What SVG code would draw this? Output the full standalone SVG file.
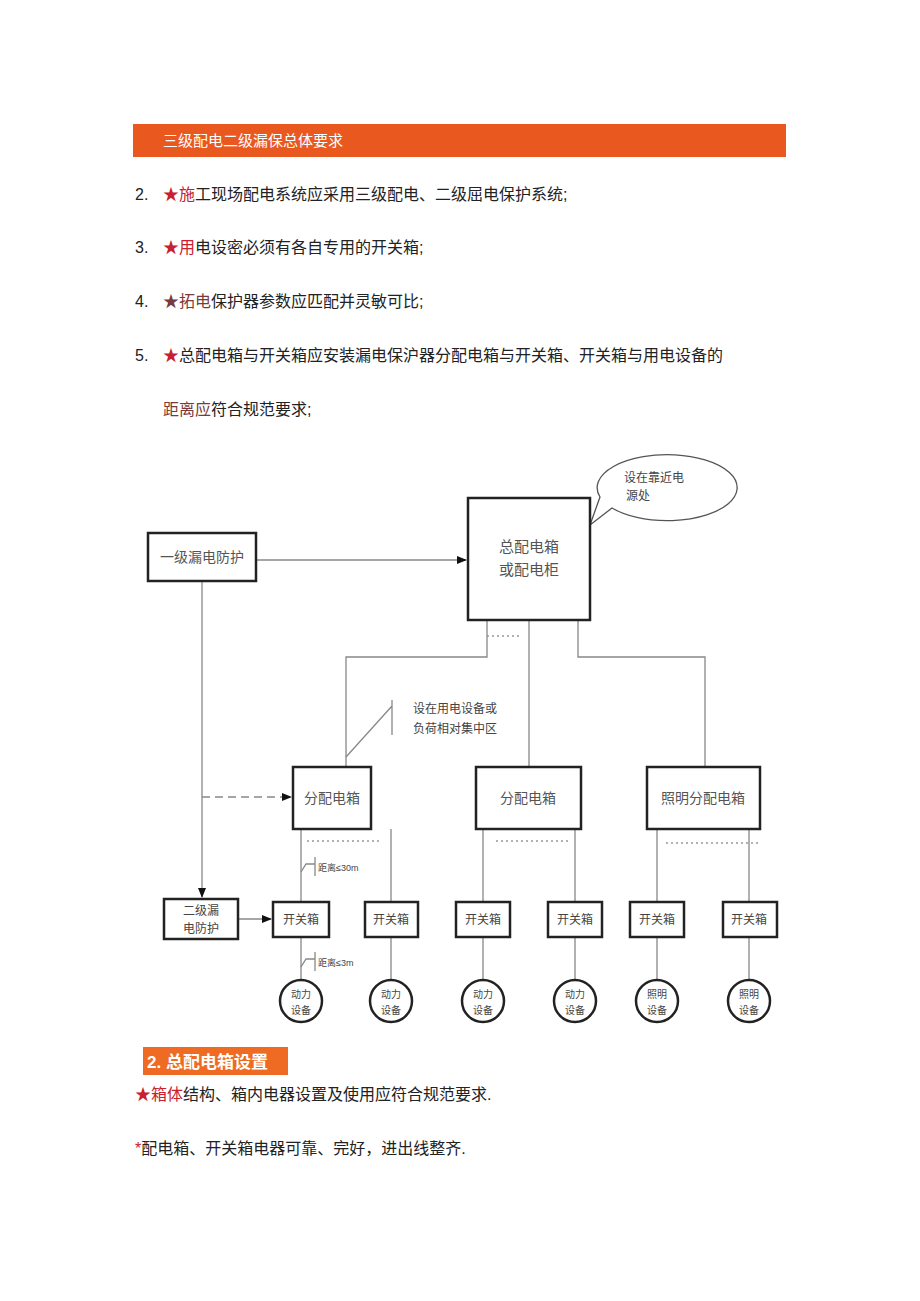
<svg xmlns="http://www.w3.org/2000/svg" width="920" height="1301" viewBox="0 0 920 1301">
<style>
text{font-family:"Liberation Sans","Noto Sans CJK SC",sans-serif;fill:#222}
.t{font-size:16px}
.r{fill:#c8202f}
.b{fill:#7a3a3a}
.d{font-size:14px;fill:#555;text-anchor:middle}
.s{font-size:12px;fill:#444;text-anchor:middle}
.bx{fill:#fff;stroke:#222;stroke-width:2.5}
.ln{stroke:#888;stroke-width:1.3;fill:none}
.dot{stroke:#999;stroke-width:1.3;stroke-dasharray:2 3}
</style>
<defs><marker id="a" markerWidth="10" markerHeight="8" refX="9" refY="4" orient="auto" markerUnits="userSpaceOnUse"><path d="M0,0L10,4L0,8z" fill="#111"/></marker></defs>
<rect width="920" height="1301" fill="#fff"/>
<rect x="133" y="124" width="653" height="33" fill="#e8581f"/>
<text x="163" y="146" style="font-size:15px;fill:#fff">三级配电二级漏保总体要求</text>
<text class="t" x="135" y="200">2.</text><text class="t" x="163" y="200"><tspan class="r">★施</tspan>工现场配电系统应采用三级配电、二级屈电保护系统;</text>
<text class="t" x="135" y="253">3.</text><text class="t" x="163" y="253"><tspan class="r">★用</tspan>电设密必须有各自专用的开关箱;</text>
<text class="t" x="135" y="307">4.</text><text class="t" x="163" y="307"><tspan class="b">★拓电</tspan>保护器参数应匹配并灵敏可比;</text>
<text class="t" x="135" y="361">5.</text><text class="t" x="163" y="361"><tspan class="r">★</tspan>总配电箱与开关箱应安装漏电保沪器分配电箱与开关箱、开关箱与用电设备的</text>
<text class="t" x="163" y="415"><tspan class="b">距离应</tspan>符合规范要求;</text>
<g id="connectors">
<line class="ln" x1="256" y1="560" x2="466" y2="560" stroke="#555" marker-end="url(#a)"/>
<line class="dot" x1="487" y1="636" x2="520" y2="636"/>
<path class="ln" d="M487 620V657H346V767M529 620V767M578 620V657H705V767"/>
<path class="ln" d="M346 757L392 706M392 700V735"/>
<line class="ln" x1="202" y1="581" x2="202" y2="897" marker-end="url(#a)"/>
<line class="ln" x1="202" y1="797" x2="291" y2="797" stroke-dasharray="8 5" marker-end="url(#a)"/>
<line class="ln" x1="238" y1="919" x2="271" y2="919" marker-end="url(#a)"/>
<path class="ln" d="M301 829V902M391 829V902M483 829V902M575 829V902M657 829V902M749 829V902"/>
<path class="dot" d="M307 841H382M496 841H571M666 843H758"/>
<path class="ln" d="M301 937V980M391 937V980M483 937V980M575 937V980M657 937V980M749 937V980"/>
<path class="ln" d="M301 872L306 864H315M315 857V876M301 967L306 959H315M315 952V971"/>
</g>
<g id="bubble"><path d="M590 525L612 508A70 33 0 1 0 600 497Z" fill="#fff" stroke="#555" stroke-width="1.3"/><text class="s" x="654" y="482">设在靠近电</text><text class="s" x="638" y="500">源处</text></g>
<g id="n1"><rect class="bx" x="148" y="533" width="108" height="48"/><text class="d" x="202" y="562">一级漏电防护</text></g>
<g id="main"><rect class="bx" x="468" y="498" width="122" height="122"/><text class="d" x="529" y="552" style="font-size:15px">总配电箱</text><text class="d" x="529" y="575" style="font-size:15px">或配电柜</text></g>
<g id="note"><text class="s" x="455" y="713">设在用电设备或</text><text class="s" x="455" y="733">负荷相对集中区</text></g>
<g id="f1"><rect class="bx" x="293" y="767" width="78" height="62"/><text class="d" x="332" y="803">分配电箱</text></g>
<g id="f2"><rect class="bx" x="476" y="767" width="105" height="62"/><text class="d" x="528" y="803">分配电箱</text></g>
<g id="f3"><rect class="bx" x="647" y="767" width="113" height="62"/><text class="d" x="703" y="803">照明分配电箱</text></g>
<g id="n2"><rect class="bx" x="164" y="899" width="74" height="40"/><text class="s" x="201" y="915">二级漏</text><text class="s" x="201" y="933">电防护</text></g>
<text style="font-size:9px;fill:#444" x="318" y="871">距离≤30m</text>
<text style="font-size:9px;fill:#444" x="318" y="966">距离≤3m</text>
<g id="k1"><rect class="bx" x="273" y="902" width="56" height="35"/><text class="s" x="301" y="924">开关箱</text></g>
<g id="k2"><rect class="bx" x="365" y="902" width="53" height="35"/><text class="s" x="391" y="924">开关箱</text></g>
<g id="k3"><rect class="bx" x="456" y="902" width="54" height="35"/><text class="s" x="483" y="924">开关箱</text></g>
<g id="k4"><rect class="bx" x="548" y="902" width="54" height="35"/><text class="s" x="575" y="924">开关箱</text></g>
<g id="k5"><rect class="bx" x="630" y="902" width="54" height="35"/><text class="s" x="657" y="924">开关箱</text></g>
<g id="k6"><rect class="bx" x="723" y="902" width="54" height="35"/><text class="s" x="749" y="924">开关箱</text></g>
<g id="c1"><circle class="bx" cx="301" cy="1001" r="21"/><text class="s" style="font-size:10px" x="301" y="998">动力</text><text class="s" style="font-size:10px" x="301" y="1014">设备</text></g>
<g id="c2"><circle class="bx" cx="391" cy="1001" r="21"/><text class="s" style="font-size:10px" x="391" y="998">动力</text><text class="s" style="font-size:10px" x="391" y="1014">设备</text></g>
<g id="c3"><circle class="bx" cx="483" cy="1001" r="21"/><text class="s" style="font-size:10px" x="483" y="998">动力</text><text class="s" style="font-size:10px" x="483" y="1014">设备</text></g>
<g id="c4"><circle class="bx" cx="575" cy="1001" r="21"/><text class="s" style="font-size:10px" x="575" y="998">动力</text><text class="s" style="font-size:10px" x="575" y="1014">设备</text></g>
<g id="c5"><circle class="bx" cx="657" cy="1001" r="21"/><text class="s" style="font-size:10px" x="657" y="998">照明</text><text class="s" style="font-size:10px" x="657" y="1014">设备</text></g>
<g id="c6"><circle class="bx" cx="749" cy="1001" r="21"/><text class="s" style="font-size:10px" x="749" y="998">照明</text><text class="s" style="font-size:10px" x="749" y="1014">设备</text></g>
<rect x="143" y="1047" width="145" height="28" fill="#ef6a22"/>
<text x="147" y="1068" style="font-size:17px;font-weight:bold;fill:#fff">2.  总配电箱设置</text>
<text class="t" x="135" y="1100"><tspan class="r">★箱体</tspan>结构、箱内电器设置及使用应符合规范要求.</text>
<text class="t" x="135" y="1154"><tspan class="r">*</tspan>配电箱、开关箱电器可靠、完好，进出线整齐.</text>
</svg>
